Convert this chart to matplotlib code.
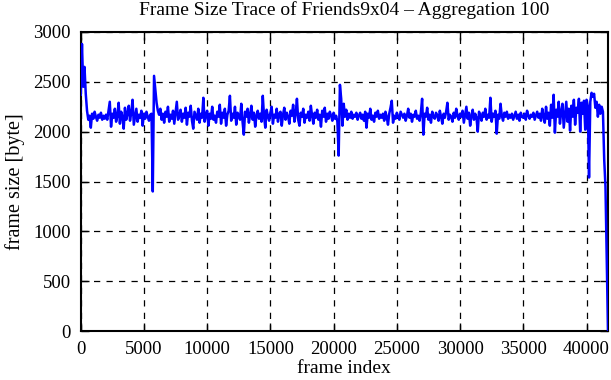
import numpy as np
import matplotlib
matplotlib.use("Agg")
import matplotlib.pyplot as plt

# aggregated frame sizes (bytes), one value per 100 frames
frame_size = [
    2370, 2880, 2450, 2650, 2380, 2210, 2120, 2160, 2040, 2180, 2130, 2200, 2150, 2110, 2170, 2140, 2190, 2120, 2160, 2130,
    2170, 2120, 2210, 2300, 2050, 2180, 2140, 2230, 2100, 2160, 2290, 2080, 2200, 2150, 2030, 2240, 2120, 2180, 2260, 2110,
    2190, 2320, 2070, 2150, 2230, 2100, 2170, 2140, 2210, 2060, 2180, 2130, 2200, 2150, 2110, 2170, 2180, 1400, 2560, 2420,
    2290, 2210, 2170, 2230, 2120, 2180, 2090, 2200, 2150, 2250, 2100, 2170, 2130, 2210, 2080, 2190, 2300, 2120, 2160, 2220,
    2100, 2180, 2140, 2240, 2070, 2190, 2150, 2260, 2110, 2030, 2200, 2160, 2120, 2230, 2090, 2180, 2140, 2340, 2100, 2170,
    2210, 2060, 2180, 2130, 2250, 2120, 2160, 2090, 2200, 2150, 2270, 2080, 2190, 2140, 2230, 2060, 2170, 2210, 2360, 2110,
    2180, 2140, 2250, 2070, 2190, 2160, 2120, 2280, 2100, 1970, 2200, 2150, 2230, 2090, 2170, 2260, 2120, 2190, 2050, 2160,
    2210, 2130, 2180, 2100, 2360, 2150, 2040, 2220, 2160, 2110, 2190, 2250, 2080, 2170, 2140, 2230, 2100, 2180, 2200, 2060,
    2170, 2240, 2120, 2190, 2150, 2080, 2210, 2160, 2270, 2100, 2180, 2330, 2120, 2060, 2190, 2150, 2230, 2090, 2170, 2140,
    2200, 2110, 2260, 2160, 2080, 2190, 2140, 2220, 2120, 2170, 2050, 2210, 2150, 2240, 2100, 2180, 2130, 2200, 2160, 2110,
    2190, 2130, 2160, 2100, 1760, 2470, 2330, 2060, 2280, 2150, 2220, 2120, 2180, 2140, 2200, 2130, 2170, 2150, 2190, 2120,
    2160, 2190, 2130, 2170, 2110, 2200, 2040, 2180, 2140, 2230, 2120, 2160, 2100, 2190, 2150, 2210, 2130, 2170, 2140, 2180,
    2110, 2200, 2150, 2070, 2180, 2240, 2310, 2090, 2160, 2130, 2190, 2150, 2120, 2200, 2170, 2140, 2180, 2110, 2160, 2230,
    2140, 2180, 2100, 2170, 2150, 2210, 2130, 2160, 2110, 2190, 2330, 1970, 2180, 2150, 2240, 2120, 2170, 2090, 2200, 2150,
    2130, 2190, 2160, 2110, 2210, 2150, 2080, 2180, 2140, 2200, 2290, 2120, 2170, 2150, 2100, 2190, 2140, 2230, 2160, 2120,
    2180, 2150, 2210, 2090, 2170, 2250, 2130, 2190, 2060, 2160, 2220, 2120, 2180, 2140, 2000, 2200, 2160, 2110, 2190, 2150,
    2230, 2120, 2170, 2140, 2340, 2100, 2180, 2150, 2210, 1980, 2170, 2130, 2280, 2160, 2110, 2190, 2150, 2200, 2130, 2170,
    2140, 2180, 2120, 2160, 2200, 2130, 2170, 2110, 2190, 2150, 2140, 2180, 2120, 2210, 2160, 2130, 2170, 2150, 2190, 2120,
    2160, 2200, 2140, 2180, 2110, 2230, 2150, 2090, 2250, 2130, 2190, 2060, 2270, 2140, 2370, 1990, 2220, 2150, 2300, 2080,
    2200, 2280, 2040, 2170, 2300, 2100, 2230, 2010, 2260, 2150, 2320, 2070, 2240, 2190, 2330, 2000, 2290, 2180, 2310, 2020,
    2320, 2260, 1540, 2300, 2390, 2350, 2380, 2240, 2300, 2150, 2270, 2180, 2250, 2200, 1720, 1450, 750, 0,
]
aggregation = 100
frame_index = np.arange(len(frame_size)) * aggregation

x_ticks = [0, 5000, 10000, 15000, 20000, 25000, 30000, 35000, 40000]
y_ticks = [0, 500, 1000, 1500, 2000, 2500, 3000]

plt.rcParams['font.family'] = ['Liberation Serif', 'DejaVu Serif']

fig = plt.figure(figsize=(6.11, 3.80), dpi=100)
ax = fig.add_axes([80.7 / 611, 49 / 380, (608 - 80.7) / 611, 299 / 380])

ax.plot(frame_index, frame_size, color='#0000ff', linewidth=1.8, zorder=3)

ax.set_xlim(0, frame_index[-1])
ax.set_ylim(0, 3000)
ax.set_xticks(x_ticks)
ax.set_yticks(y_ticks)
ax.grid(True, color='black', linestyle=(0, (5, 5)), linewidth=0.9)
ax.tick_params(direction='in', top=True, right=True, length=6, width=1,
               labelsize=13.5)
ax.tick_params(axis='x', pad=7.5)
ax.tick_params(axis='y', pad=7)
for s in ax.spines.values():
    s.set_linewidth(1.5)

ax.set_title("Frame Size Trace of Friends9x04 \u2013 Aggregation 100", fontsize=14, pad=12)
ax.set_xlabel("frame index", fontsize=14, labelpad=1)
ax.set_ylabel("frame size [byte]", fontsize=14.5, labelpad=6)

fig.savefig("out.png", dpi=100)
